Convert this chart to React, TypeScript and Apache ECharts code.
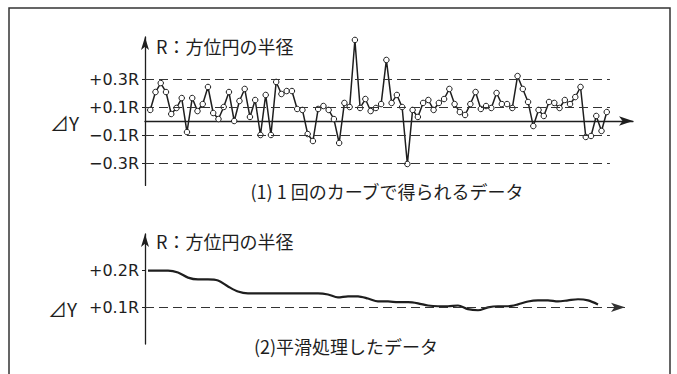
import React, { useEffect, useRef } from 'react';
import * as echarts from 'echarts';

// Panel (1): deviation ΔY (in units of R) of each reading obtained from one curve
const rawDeviation = [
  0.079, 0.207, 0.271, 0.207, 0.05, 0.093, 0.164, -0.079, 0.164, 0.071,
  0.121, 0.243, 0.057, 0.014, 0.1, 0.207, 0.0, 0.143, 0.229, 0.029,
  0.15, -0.1, 0.186, -0.1, 0.279, 0.193, 0.214, 0.214, 0.086, 0.079,
  -0.093, -0.143, 0.086, 0.107, 0.079, 0.014, -0.157, 0.129, 0.1, 0.579,
  0.093, 0.157, 0.071, 0.093, 0.121, 0.436, 0.129, 0.186, 0.1, -0.307,
  0.079, 0.029, 0.129, 0.15, 0.079, 0.129, 0.157, 0.229, 0.121, 0.064,
  0.043, 0.121, 0.207, 0.086, 0.107, 0.093, 0.2, 0.121, 0.121, 0.093,
  0.321, 0.229, 0.136, -0.036, 0.079, 0.036, 0.136, 0.129, 0.093, 0.15,
  0.121, 0.171, 0.243, -0.114, -0.107, 0.036, -0.071, 0.064,
];

// Panel (2): smoothed data
const smoothedDeviation = [
  0.2, 0.2, 0.2, 0.195, 0.181, 0.176, 0.176, 0.173, 0.157, 0.143,
  0.138, 0.138, 0.138, 0.138, 0.138, 0.138, 0.138, 0.138, 0.135, 0.127,
  0.13, 0.13, 0.124, 0.116, 0.116, 0.114, 0.114, 0.111, 0.105, 0.103,
  0.103, 0.105, 0.095, 0.092, 0.1, 0.103, 0.103, 0.108, 0.116, 0.119,
  0.119, 0.116, 0.119, 0.122, 0.119, 0.108,
];

const panel1Levels = [0.3, 0.1, -0.1, -0.3];
const panel2Ticks = [0.2, 0.1];
const panel2Baseline = 0.1;

const axisTitle = 'R：方位円の半径';
const yName = '⊿Y';
const caption1 = '(1) 1 回のカーブで得られるデータ';
const caption2 = '(2)平滑処理したデータ';

const INK = '#1e1e1e';
const FONT = 'DejaVu Sans';
const CJK = 'Noto Sans CJK JP';

const fmt = (v: number) => (v > 0 ? '+' : '−') + Math.abs(v).toFixed(1) + 'R';

export default function App() {
  const ref = useRef<HTMLDivElement>(null);
  useEffect(() => {
    const chart = echarts.init(ref.current!, null, { renderer: 'svg', width: 677, height: 374 });
    const p1End = 87.6;
    const option: any = {
      animation: false,
      backgroundColor: '#fff',
      grid: [
        { left: 145, top: 37, width: 488, height: 148.4 },
        { left: 145, top: 234, width: 480, height: 110 },
      ],
      xAxis: [
        {
          gridIndex: 0, type: 'value', min: -1, max: 92,
          axisLine: { show: true, onZero: true, symbol: ['none', 'arrow'], symbolSize: [7, 14], lineStyle: { color: INK, width: 1.3 } },
          axisTick: { show: false }, axisLabel: { show: false }, splitLine: { show: false },
        },
        {
          gridIndex: 1, type: 'value', min: -0.3, max: 47.7,
          axisLine: { show: false }, axisTick: { show: false }, axisLabel: { show: false }, splitLine: { show: false },
        },
      ],
      yAxis: [
        {
          gridIndex: 0, type: 'value', min: -0.46, max: 0.6,
          axisLine: { show: true, onZero: false, symbol: ['none', 'arrow'], symbolSize: [6, 13], lineStyle: { color: INK, width: 1.3 } },
          axisTick: { show: true, customValues: panel1Levels, length: 3, lineStyle: { color: INK } },
          axisLabel: { customValues: panel1Levels, formatter: fmt, color: INK, fontSize: 16, fontFamily: FONT, margin: 6 },
          splitLine: { show: false },
        },
        {
          gridIndex: 1, type: 'value', min: 0, max: 0.3,
          axisLine: { show: true, onZero: false, symbol: ['none', 'arrow'], symbolSize: [6, 13], lineStyle: { color: INK, width: 1.3 } },
          axisTick: { show: true, customValues: panel2Ticks, length: 3, lineStyle: { color: INK } },
          axisLabel: { customValues: panel2Ticks, formatter: fmt, color: INK, fontSize: 16, fontFamily: FONT, margin: 6 },
          splitLine: { show: false },
        },
      ],
      series: [
        {
          type: 'line', xAxisIndex: 0, yAxisIndex: 0,
          data: rawDeviation.map((v, i) => [i, v]),
          symbol: 'circle', symbolSize: 5.5, showSymbol: true,
          lineStyle: { color: INK, width: 1.5 },
          itemStyle: { color: '#fff', borderColor: INK, borderWidth: 1 },
          z: 3,
          markLine: {
            silent: true, symbol: ['none', 'none'], label: { show: false },
            lineStyle: { color: '#333', width: 1.2, type: [9, 5] },
            data: panel1Levels.map((lv) => [{ coord: [-1, lv] }, { coord: [p1End, lv] }]),
          },
        },
        {
          type: 'line', xAxisIndex: 1, yAxisIndex: 1,
          data: smoothedDeviation.map((v, i) => [i, v]),
          symbol: 'none', smooth: 0.3,
          lineStyle: { color: INK, width: 2.2 },
          z: 3,
          markLine: {
            silent: true, symbol: ['none', 'arrow'], symbolSize: [7, 14], label: { show: false },
            lineStyle: { color: '#333', width: 1.2, type: [9, 5] },
            data: [[{ coord: [-0.3, panel2Baseline] }, { coord: [47.7, panel2Baseline] }]],
          },
        },
      ],
      graphic: [
        { type: 'rect', shape: { x: 9, y: 8, width: 661, height: 400 }, style: { fill: 'none', stroke: '#333', lineWidth: 1.5 }, silent: true },
        { type: 'text', x: 156, y: 46, style: { text: axisTitle, fill: INK, fontSize: 18, fontFamily: CJK, verticalAlign: 'middle' } },
        { type: 'text', x: 156, y: 241, style: { text: axisTitle, fill: INK, fontSize: 18, fontFamily: CJK, verticalAlign: 'middle' } },
        { type: 'text', x: 50, y: 122, style: { text: yName, fill: INK, fontSize: 19, fontFamily: CJK, verticalAlign: 'middle' } },
        { type: 'text', x: 48, y: 308, style: { text: yName, fill: INK, fontSize: 19, fontFamily: CJK, verticalAlign: 'middle' } },
        { type: 'text', x: 387, y: 191, style: { text: caption1, fill: INK, fontSize: 18, fontFamily: CJK, align: 'center', verticalAlign: 'middle' } },
        { type: 'text', x: 346, y: 346, style: { text: caption2, fill: INK, fontSize: 18, fontFamily: CJK, align: 'center', verticalAlign: 'middle' } },
      ],
    };
    chart.setOption(option);
    return () => chart.dispose();
  }, []);
  return <div ref={ref} style={{ position: 'absolute', left: 0, top: 0, width: 677, height: 374, background: '#fff' }} />;
}
